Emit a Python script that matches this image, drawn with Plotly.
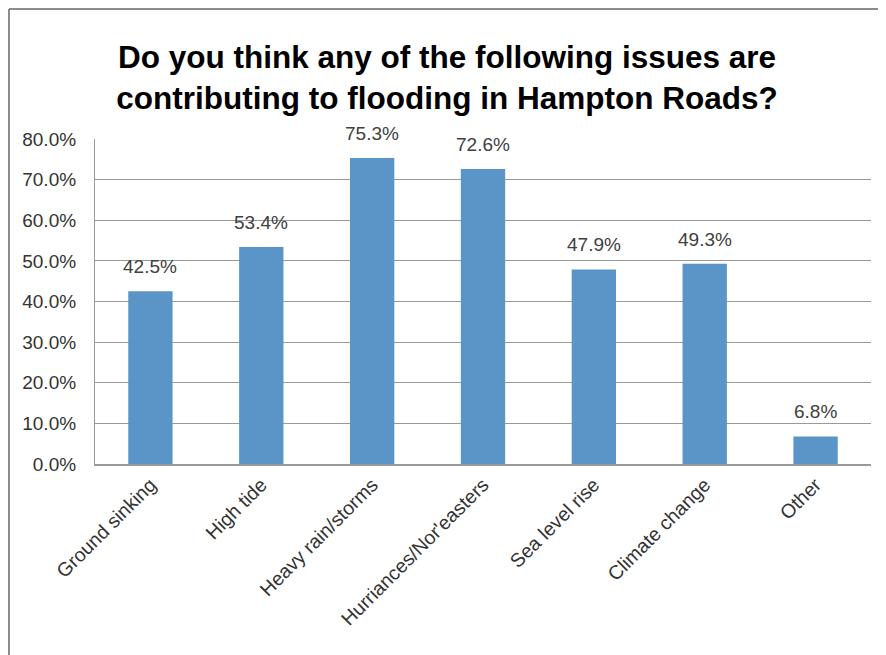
import plotly.graph_objects as go

categories = ["Ground sinking", "High tide", "Heavy rain/storms", "Hurriances/Nor'easters",
              "Sea level rise", "Climate change", "Other"]
values = [0.425, 0.534, 0.753, 0.726, 0.479, 0.493, 0.068]
tick_vals = [0, 0.1, 0.2, 0.3, 0.4, 0.5, 0.6, 0.7, 0.8]
tick_text = ["0.0%", "10.0%", "20.0%", "30.0%", "40.0%", "50.0%", "60.0%", "70.0%", "80.0%"]

FONT = "Liberation Sans, Arial, sans-serif"

fig = go.Figure()
fig.add_trace(go.Bar(x=categories, y=values, marker=dict(color="#5B95C7", line=dict(width=0)),
                     hoverinfo="skip"))

for c, v in zip(categories, values):
    fig.add_annotation(x=c, y=v, text=f"{v*100:.1f}%", showarrow=False, yanchor="bottom",
                       yshift=12, font=dict(family=FONT, size=19, color="#404040"))

# page body has an 8px margin, so figure is sized to fill the rest of the window
W, H = 878, 647
L, R, T, B = 87, 15, 131, 191
pw, ph = W - L - R, H - T - B

# outer frame lines (top and left), at the figure's edge
fig.add_shape(type="line", xref="paper", yref="paper",
              x0=(1 - L) / pw, x1=(W + 5 - L) / pw, y0=(H - B - 1) / ph, y1=(H - B - 1) / ph,
              line=dict(color="#8c8c8c", width=2))
fig.add_shape(type="line", xref="paper", yref="paper",
              x0=(1 - L) / pw, x1=(1 - L) / pw, y0=(H - B - 1) / ph, y1=-(B + 5) / ph,
              line=dict(color="#8c8c8c", width=2))

fig.update_layout(
    width=W, height=H,
    margin=dict(l=L, r=R, t=T, b=B),
    paper_bgcolor="white", plot_bgcolor="white",
    bargap=0.6,
    showlegend=False,
    title=dict(text="<b>Do you think any of the following issues are<br>contributing to flooding in Hampton Roads?</b>",
               x=0.5, xanchor="center", xref="container",
               y=1 - 60 / H, yanchor="middle", yref="container",
               font=dict(family=FONT, size=31.5, color="black")),
    xaxis=dict(tickangle=-45, showline=True, linecolor="#999999", linewidth=1.5,
               ticks="", showgrid=False,
               tickfont=dict(family=FONT, size=19.5, color="#333333")),
    yaxis=dict(range=[0, 0.8], tickvals=tick_vals, ticktext=tick_text,
               showgrid=True, gridcolor="#999999", gridwidth=1.2,
               showline=True, linecolor="#999999", linewidth=1.2,
               zeroline=False, ticks="", ticklen=0, ticklabelstandoff=14,
               tickfont=dict(family=FONT, size=19, color="#333333")),
)

fig.write_html("out.html")
